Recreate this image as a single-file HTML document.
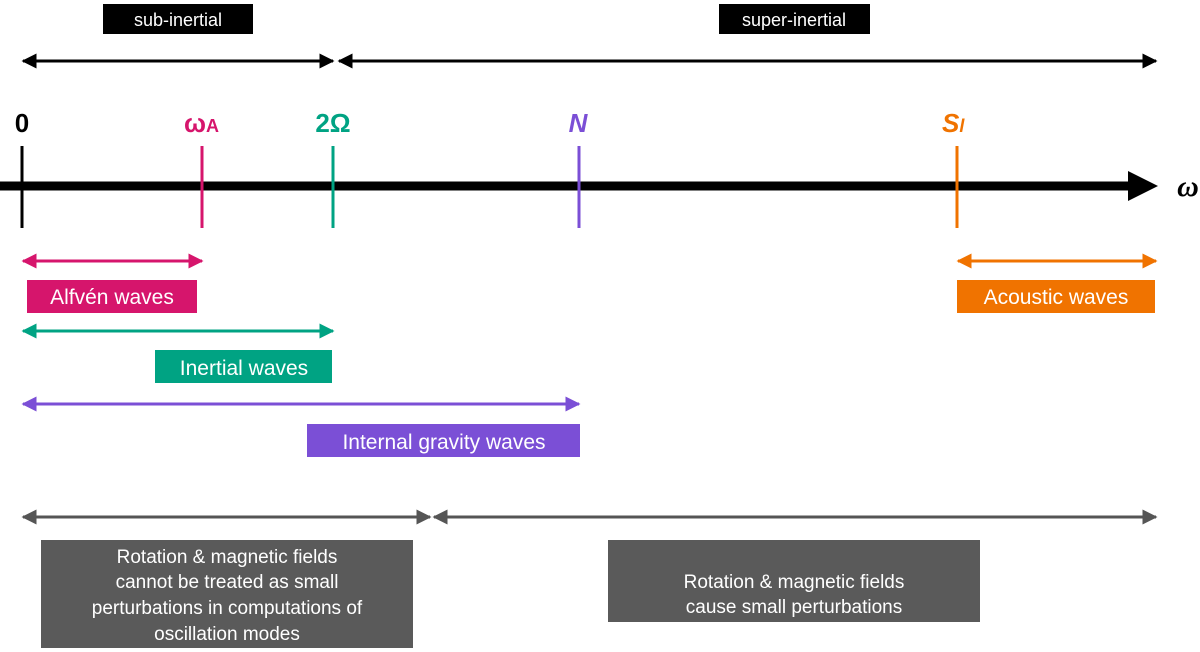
<!DOCTYPE html>
<html><head><meta charset="utf-8"><style>html,body{margin:0;padding:0;background:#fff}svg{display:block}</style></head>
<body>
<svg width="1200" height="652" viewBox="0 0 1200 652" xmlns="http://www.w3.org/2000/svg" font-family="Liberation Sans, sans-serif">
<defs>
<marker id="ak" viewBox="0 0 10 10" refX="9" refY="5" markerWidth="5" markerHeight="5" orient="auto-start-reverse"><path d="M0,0 L10,5 L0,10 z" fill="#000"/></marker>
<marker id="ap" viewBox="0 0 10 10" refX="9" refY="5" markerWidth="5" markerHeight="5" orient="auto-start-reverse"><path d="M0,0 L10,5 L0,10 z" fill="#d6156c"/></marker>
<marker id="at" viewBox="0 0 10 10" refX="9" refY="5" markerWidth="5" markerHeight="5" orient="auto-start-reverse"><path d="M0,0 L10,5 L0,10 z" fill="#00a383"/></marker>
<marker id="au" viewBox="0 0 10 10" refX="9" refY="5" markerWidth="5" markerHeight="5" orient="auto-start-reverse"><path d="M0,0 L10,5 L0,10 z" fill="#7b4fd6"/></marker>
<marker id="ao" viewBox="0 0 10 10" refX="9" refY="5" markerWidth="5" markerHeight="5" orient="auto-start-reverse"><path d="M0,0 L10,5 L0,10 z" fill="#f07300"/></marker>
<marker id="ag" viewBox="0 0 10 10" refX="9" refY="5" markerWidth="5" markerHeight="5" orient="auto-start-reverse"><path d="M0,0 L10,5 L0,10 z" fill="#555"/></marker>
</defs>
<rect x="103" y="4" width="150" height="30" fill="#000"/>
<text x="178" y="26" font-size="18" fill="#fff" text-anchor="middle">sub-inertial</text>
<rect x="719" y="4" width="151" height="30" fill="#000"/>
<text x="794" y="26" font-size="18" fill="#fff" text-anchor="middle">super-inertial</text>
<line x1="23" y1="61" x2="333" y2="61" stroke="#000" stroke-width="3" marker-start="url(#ak)" marker-end="url(#ak)"/>
<line x1="339" y1="61" x2="1156" y2="61" stroke="#000" stroke-width="3" marker-start="url(#ak)" marker-end="url(#ak)"/>
<line x1="0" y1="186" x2="1132" y2="186" stroke="#000" stroke-width="9"/>
<path d="M1128,171 L1158,186 L1128,201 z" fill="#000"/>
<text x="1188" y="196" font-size="30" font-weight="bold" font-style="italic" text-anchor="middle" font-family="Liberation Serif, serif">ω</text>
<line x1="22" y1="146" x2="22" y2="228" stroke="#000" stroke-width="3"/>
<line x1="202" y1="146" x2="202" y2="228" stroke="#d6156c" stroke-width="3"/>
<line x1="333" y1="146" x2="333" y2="228" stroke="#00a383" stroke-width="3"/>
<line x1="579" y1="146" x2="579" y2="228" stroke="#7b4fd6" stroke-width="3"/>
<line x1="957" y1="146" x2="957" y2="228" stroke="#f07300" stroke-width="3"/>
<g font-size="26" font-weight="bold">
<text x="22" y="132" text-anchor="middle">0</text>
<text x="184" y="132" fill="#d6156c">ω<tspan font-size="18">A</tspan></text>
<text x="333" y="132" fill="#00a383" text-anchor="middle">2Ω</text>
<text x="578" y="132" fill="#7b4fd6" font-style="italic" text-anchor="middle">N</text>
<text x="942" y="132" fill="#f07300" font-style="italic">S<tspan font-size="18">l</tspan></text>
</g>
<line x1="23" y1="261" x2="202" y2="261" stroke="#d6156c" stroke-width="3" marker-start="url(#ap)" marker-end="url(#ap)"/>
<rect x="27" y="280" width="170" height="33" fill="#d6156c"/>
<text x="112" y="304" font-size="21" fill="#fff" text-anchor="middle">Alfvén waves</text>
<line x1="958" y1="261" x2="1156" y2="261" stroke="#f07300" stroke-width="3" marker-start="url(#ao)" marker-end="url(#ao)"/>
<rect x="957" y="280" width="198" height="33" fill="#f07300"/>
<text x="1056" y="304" font-size="21" fill="#fff" text-anchor="middle">Acoustic waves</text>
<line x1="23" y1="331" x2="333" y2="331" stroke="#00a383" stroke-width="3" marker-start="url(#at)" marker-end="url(#at)"/>
<rect x="155" y="350" width="177" height="33" fill="#00a383"/>
<text x="244" y="375" font-size="21" fill="#fff" text-anchor="middle">Inertial waves</text>
<line x1="23" y1="404" x2="579" y2="404" stroke="#7b4fd6" stroke-width="3" marker-start="url(#au)" marker-end="url(#au)"/>
<rect x="307" y="424" width="273" height="33" fill="#7b4fd6"/>
<text x="444" y="449" font-size="21" fill="#fff" text-anchor="middle">Internal gravity waves</text>
<line x1="23" y1="517" x2="430" y2="517" stroke="#555" stroke-width="3" marker-start="url(#ag)" marker-end="url(#ag)"/>
<line x1="434" y1="517" x2="1156" y2="517" stroke="#555" stroke-width="3" marker-start="url(#ag)" marker-end="url(#ag)"/>
<rect x="41" y="540" width="372" height="108" fill="#5a5a5a"/>
<g font-size="19" fill="#fff" text-anchor="middle">
<text x="227" y="563">Rotation &amp; magnetic fields</text>
<text x="227" y="588">cannot be treated as small</text>
<text x="227" y="614">perturbations in computations of</text>
<text x="227" y="640">oscillation modes</text>
</g>
<rect x="608" y="540" width="372" height="82" fill="#5a5a5a"/>
<g font-size="19" fill="#fff" text-anchor="middle">
<text x="794" y="588">Rotation &amp; magnetic fields</text>
<text x="794" y="613">cause small perturbations</text>
</g>
</svg>
</body></html>
